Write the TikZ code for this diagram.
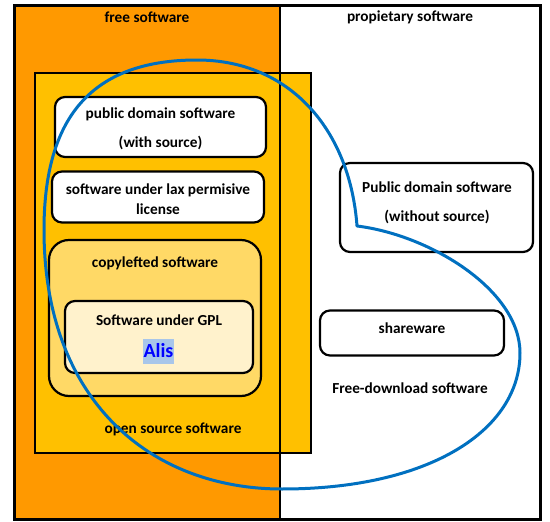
\documentclass[tikz,border=0pt]{standalone}
\usepackage{fontspec}
\setmainfont{Carlito}
\definecolor{orangeF}{RGB}{255,153,0}
\definecolor{yellowO}{RGB}{255,192,0}
\definecolor{copyF}{RGB}{255,217,102}
\definecolor{gplF}{RGB}{255,242,204}
\definecolor{curveB}{RGB}{0,112,192}
\definecolor{hiliteB}{RGB}{168,198,234}
\definecolor{alisB}{RGB}{0,0,255}
\begin{document}
\begin{tikzpicture}[x=1pt,y=-1pt,
  lbl/.style={font=\fontsize{15.3}{18}\selectfont\bfseries, inner sep=0pt, align=center},
  rbox/.style={draw=black, line width=2.2pt, rounded corners=10pt, inner sep=0pt, align=center,
     font=\fontsize{15.3}{18}\selectfont\bfseries},
]
\useasboundingbox (0,0) rectangle (550,522);
% halves
\fill[orangeF] (14,5) rectangle (280,519);
\fill[white] (280,5) rectangle (540,519);
% open source box
\node[draw=black, line width=2.6pt, fill=yellowO, minimum width=276pt, minimum height=380pt, inner sep=0pt] (oss) at (173,263) {};
% divider and frame
\draw[line width=2pt] (280,5) -- (280,519);
\draw[line width=3pt] (14,5) rectangle (540,519);
\node[lbl] (freeL) at (147,17) {free software};
\node[lbl] (propL) at (410,17) {propietary software};
\node[lbl] (ossL) at (173,429) {open source software};
% boxes in open source
\node[rbox, fill=white, minimum width=211pt, minimum height=60pt] (pdws) at (160.5,127) {};
\node[lbl] (pdwsL) at (160.5,128.5) {public domain software\\[11pt](with source)};
\node[rbox, fill=white, minimum width=212pt, minimum height=51pt] (lax) at (158,197) {};
\node[lbl] (laxL) at (158,199) {software under lax permisive\\[2pt]license};
\node[rbox, fill=copyF, rounded corners=20pt, minimum width=212pt, minimum height=156pt] (copy) at (155,318) {};
\node[lbl] (copyL) at (155,263) {copylefted software};
\node[rbox, fill=gplF, minimum width=188pt, minimum height=72pt] (gpl) at (159,337) {};
\node[lbl] (gplL) at (159,320) {Software under GPL};
\node[fill=hiliteB, text=alisB, inner sep=0pt, minimum width=31pt, minimum height=25pt,
      font=\fontsize{20}{24}\selectfont\bfseries] (alis) at (158.5,351) {Alis};
% proprietary side
\node[rbox, fill=white, minimum width=193pt, minimum height=89pt] (pdwo) at (436.5,207.5) {};
\node[lbl] (pdwoL) at (437,202.5) {Public domain software\\[11pt](without source)};
\node[rbox, fill=white, minimum width=184pt, minimum height=45pt] (share) at (412,333) {};
\node[lbl] (shareL) at (412,328.5) {shareware};
\node[lbl] (fdl) at (410,388) {Free-download software};
% blue curve
\coordinate (K) at (357,226);
\draw[curveB, line width=3pt, line join=round] (K) .. controls (350,130) and (290,60) .. (197,60)
  .. controls (85,60) and (44,125) .. (44,230)
  .. controls (44,400) and (150,489) .. (282,489)
  .. controls (430,489) and (520,430) .. (520,353)
  .. controls (520,290) and (430,235) .. (K) -- cycle;
\end{tikzpicture}
\end{document}
